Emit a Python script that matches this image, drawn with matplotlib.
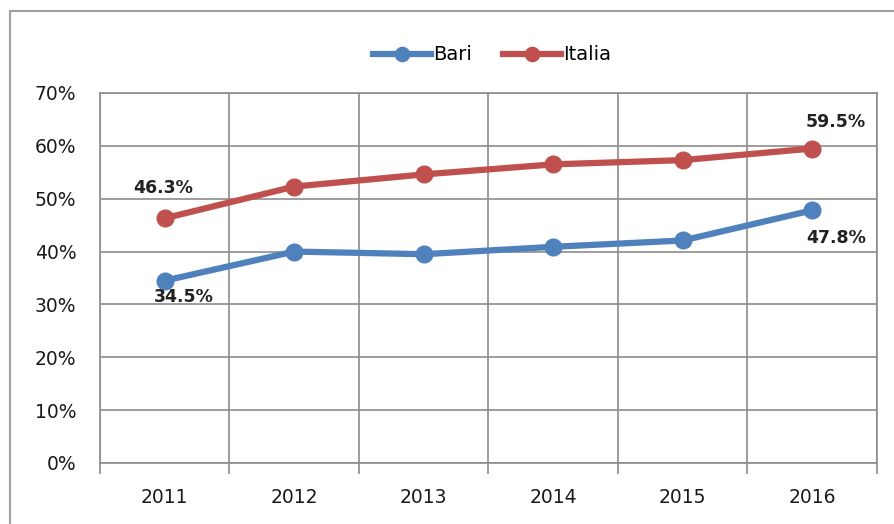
import numpy as np
import matplotlib.pyplot as plt
from matplotlib.patches import Rectangle

# Dati
anni = ['2011', '2012', '2013', '2014', '2015', '2016']
bari = [34.5, 40.0, 39.5, 40.9, 42.1, 47.8]
italia = [46.3, 52.3, 54.6, 56.5, 57.3, 59.5]

blu = '#4F81BD'
rosso = '#C0504D'
grigio = '#A0A0A0'

fig = plt.figure(figsize=(8.95, 5.24), dpi=100)
# bordo esterno dell'area grafico
fig.patches.append(Rectangle((10 / 895, -0.01), 1.0, 1 - 11 / 524 + 0.01,
                             transform=fig.transFigure, fill=False,
                             edgecolor=grigio, linewidth=1.5))

ax = fig.add_axes([100 / 895, 1 - 463 / 524, 777 / 895, 370 / 524])
x = np.arange(len(anni))

ax.plot(x, bari, color=blu, linewidth=4.5, marker='o', markersize=12, label='Bari')
ax.plot(x, italia, color=rosso, linewidth=4.5, marker='o', markersize=12, label='Italia')

ax.set_xlim(-0.5, len(anni) - 0.5)
ax.set_ylim(0, 70)
ax.set_yticks(np.arange(0, 71, 10))
ax.set_yticklabels([f'{v}%' for v in range(0, 71, 10)])
ax.set_xticks(x)
ax.set_xticklabels(anni)

# griglia verticale tra le categorie
ax.set_xticks(np.arange(-0.5, len(anni), 1), minor=True)
ax.grid(True, axis='y', color='#8C8C8C', linewidth=1.2)
ax.grid(True, axis='x', which='minor', color='#8C8C8C', linewidth=1.2)
ax.set_axisbelow(True)
ax.tick_params(axis='x', which='major', length=0, pad=18, labelsize=13.5, labelcolor='#1a1a1a')
ax.tick_params(axis='x', which='minor', length=8, width=1.2, color='#8C8C8C')
ax.tick_params(axis='y', length=0, pad=17, labelsize=13.5, labelcolor='#1a1a1a')
for s in ax.spines.values():
    s.set_color('#8C8C8C')
    s.set_linewidth(1.2)

# etichette dati
stile = dict(textcoords='offset points', ha='center', va='center',
             fontsize=12.5, fontweight='bold', color='#222222')
ax.annotate(f'{italia[0]}%', (x[0], italia[0]), xytext=(-1, 22), **stile)
ax.annotate(f'{bari[0]}%', (x[0], bari[0]), xytext=(14, -12), **stile)
ax.annotate(f'{italia[-1]}%', (x[-1], italia[-1]), xytext=(17, 19), **stile)
ax.annotate(f'{bari[-1]}%', (x[-1], bari[-1]), xytext=(17, -20), **stile)

fig.legend(loc='center', bbox_to_anchor=(492 / 895, 1 - 55 / 524), ncol=2, frameon=False,
           fontsize=14, handlelength=3.0, handletextpad=0.1, columnspacing=1.6,
           markerscale=0.85)

fig.savefig('out.png', dpi=100)
